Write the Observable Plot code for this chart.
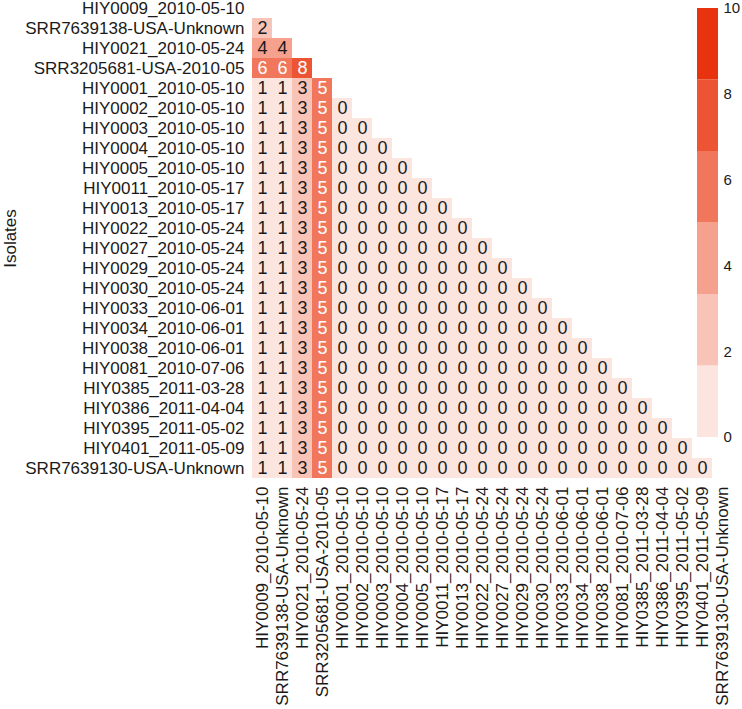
<!DOCTYPE html>
<html><head><meta charset="utf-8">
<script src="https://cdn.jsdelivr.net/npm/d3@7"></script>
<script src="https://cdn.jsdelivr.net/npm/@observablehq/plot@0.6"></script>
<style>
body{margin:0;background:#fff;}
#wrap{position:relative;width:742px;height:709px;overflow:hidden;}
#legend{position:absolute;left:680px;top:0;}
#main{position:absolute;left:0;top:0;}
</style></head><body><div id="wrap"><div id="main"></div><div id="legend"></div></div>
<script>
const isolates = [
  "HIY0009_2010-05-10","SRR7639138-USA-Unknown","HIY0021_2010-05-24","SRR3205681-USA-2010-05",
  "HIY0001_2010-05-10","HIY0002_2010-05-10","HIY0003_2010-05-10","HIY0004_2010-05-10",
  "HIY0005_2010-05-10","HIY0011_2010-05-17","HIY0013_2010-05-17","HIY0022_2010-05-24",
  "HIY0027_2010-05-24","HIY0029_2010-05-24","HIY0030_2010-05-24","HIY0033_2010-06-01",
  "HIY0034_2010-06-01","HIY0038_2010-06-01","HIY0081_2010-07-06","HIY0385_2011-03-28",
  "HIY0386_2011-04-04","HIY0395_2011-05-02","HIY0401_2011-05-09","SRR7639130-USA-Unknown"
];
// lower-triangle SNP distances, one list per row (row i has i values)
const row00 = [];
const row01 = [2];
const row02 = [4,4];
const row03 = [6,6,8];
const row04 = [1,1,3,5];
const row05 = [1,1,3,5,0];
const row06 = [1,1,3,5,0,0];
const row07 = [1,1,3,5,0,0,0];
const row08 = [1,1,3,5,0,0,0,0];
const row09 = [1,1,3,5,0,0,0,0,0];
const row10 = [1,1,3,5,0,0,0,0,0,0];
const row11 = [1,1,3,5,0,0,0,0,0,0,0];
const row12 = [1,1,3,5,0,0,0,0,0,0,0,0];
const row13 = [1,1,3,5,0,0,0,0,0,0,0,0,0];
const row14 = [1,1,3,5,0,0,0,0,0,0,0,0,0,0];
const row15 = [1,1,3,5,0,0,0,0,0,0,0,0,0,0,0];
const row16 = [1,1,3,5,0,0,0,0,0,0,0,0,0,0,0,0];
const row17 = [1,1,3,5,0,0,0,0,0,0,0,0,0,0,0,0,0];
const row18 = [1,1,3,5,0,0,0,0,0,0,0,0,0,0,0,0,0,0];
const row19 = [1,1,3,5,0,0,0,0,0,0,0,0,0,0,0,0,0,0,0];
const row20 = [1,1,3,5,0,0,0,0,0,0,0,0,0,0,0,0,0,0,0,0];
const row21 = [1,1,3,5,0,0,0,0,0,0,0,0,0,0,0,0,0,0,0,0,0];
const row22 = [1,1,3,5,0,0,0,0,0,0,0,0,0,0,0,0,0,0,0,0,0,0];
const row23 = [1,1,3,5,0,0,0,0,0,0,0,0,0,0,0,0,0,0,0,0,0,0,0];
const distances = [row00,row01,row02,row03,row04,row05,row06,row07,row08,row09,row10,row11,
  row12,row13,row14,row15,row16,row17,row18,row19,row20,row21,row22,row23];

// colour bins (0–10 in six steps)
const binBreaks = [5/3, 10/3, 5, 20/3, 25/3];
const binColors = ["#fde5df","#f9c4b8","#f6a08e","#f1775c","#ec5433","#e8340e"];
const legendLo = [0, 5/3, 10/3, 5, 20/3, 25/3];
const legendHi = [5/3, 10/3, 5, 20/3, 25/3, 10];
const legendTicks = [10, 8, 6, 4, 2, 0];

const cells = [];
distances.forEach((row, i) => row.forEach((v, j) => cells.push({row: isolates[i], col: isolates[j], value: v})));

const font = "'Liberation Sans', Arial, Helvetica, sans-serif";
const ink = "#1a1a1a";

const main = Plot.plot({
  width: 742, height: 709,
  marginLeft: 251, marginRight: 10, marginTop: -2, marginBottom: 231,
  style: {fontFamily: font, fontSize: "17px", color: ink, background: "white", overflow: "visible"},
  x: {domain: isolates, padding: 0, label: null},
  y: {domain: isolates, padding: 0, label: null},
  color: {type: "threshold", domain: binBreaks, range: binColors},
  marks: [
    Plot.cell(cells, {x: "col", y: "row", fill: "value"}),
    Plot.text(cells.filter(d => d.value < 5), {x: "col", y: "row", text: "value", fill: ink, fontSize: 18}),
    Plot.text(cells.filter(d => d.value >= 5), {x: "col", y: "row", text: "value", fill: "white", fontSize: 18}),
    Plot.axisX({tickSize: 0, tickPadding: 8, tickRotate: -90, label: null, fontSize: 17}),
    Plot.axisY({tickSize: 0, tickPadding: 7, label: "Isolates", labelAnchor: "center", labelOffset: 248, fontSize: 17})
  ]
});
document.getElementById("main").appendChild(main);

const bands = legendLo.map((lo, i) => ({lo, hi: legendHi[i], mid: (lo + legendHi[i]) / 2}));
const legend = Plot.plot({
  width: 62, height: 446,
  marginLeft: 17, marginRight: 24, marginTop: 8, marginBottom: 9,
  style: {fontFamily: font, fontSize: "15px", color: ink, background: "transparent", overflow: "visible"},
  x: {domain: [0, 1], axis: null},
  y: {domain: [0, 10], axis: null},
  color: {type: "threshold", domain: binBreaks, range: binColors},
  marks: [
    Plot.rect(bands, {x1: () => 0, x2: () => 1, y1: "lo", y2: "hi", fill: "mid"}),
    Plot.text(legendTicks, {x: () => 1, y: d => d, text: d => String(d), dx: 5, textAnchor: "start", fill: ink, fontSize: 15})
  ]
});
document.getElementById("legend").appendChild(legend);
</script>
</body></html>
